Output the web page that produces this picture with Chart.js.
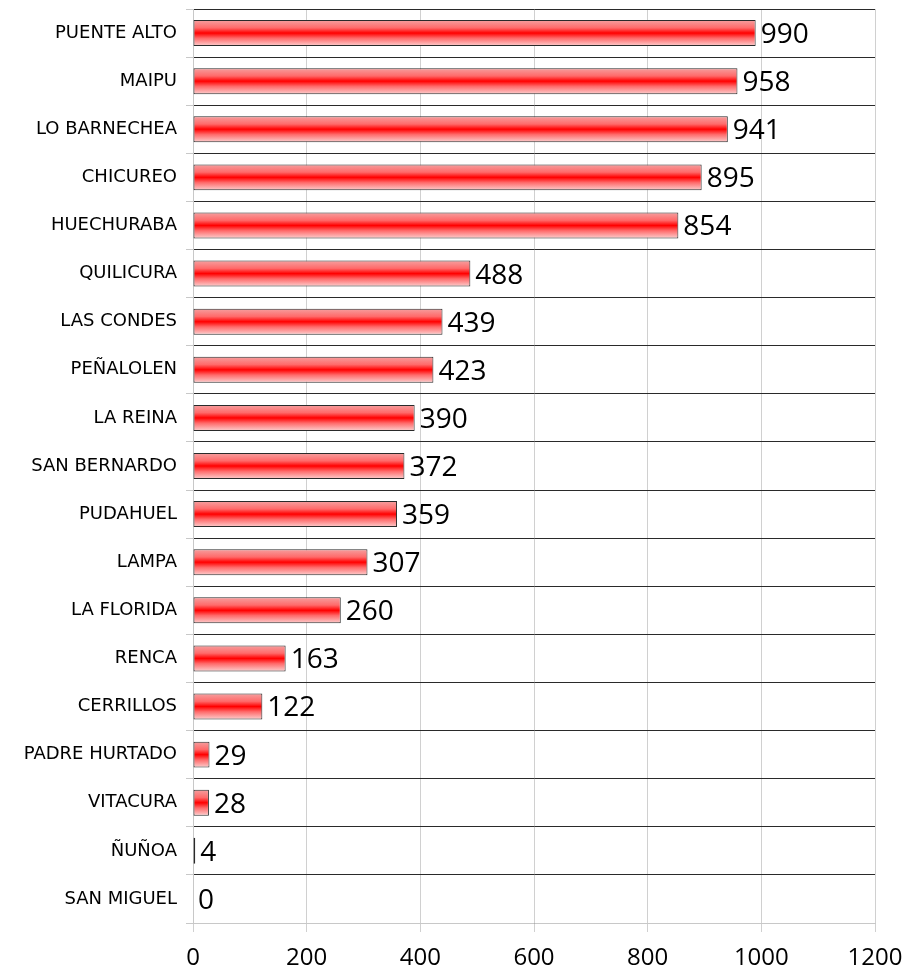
<!DOCTYPE html>
<html>
<head>
<meta charset="utf-8">
<script src="https://cdn.jsdelivr.net/npm/chart.js@4"></script>
<style>
  html, body { margin: 0; padding: 0; background: #fff; }
  #wrap { width: 905px; height: 974px; }
</style>
</head>
<body>
<div id="wrap"><canvas id="grafico" width="905" height="974"></canvas></div>
<script>
const comunas = [
  "PUENTE ALTO", "MAIPU", "LO BARNECHEA", "CHICUREO", "HUECHURABA",
  "QUILICURA", "LAS CONDES", "PEÑALOLEN", "LA REINA", "SAN BERNARDO",
  "PUDAHUEL", "LAMPA", "LA FLORIDA", "RENCA", "CERRILLOS",
  "PADRE HURTADO", "VITACURA", "ÑUÑOA", "SAN MIGUEL"
];
const valores = [990, 958, 941, 895, 854, 488, 439, 423, 390, 372, 359, 307, 260, 163, 122, 29, 28, 4, 0];
const ejeX = { min: 0, max: 1200, paso: 200 };

const anchoBarra = 0.54;

// degradado rojo por barra (claro arriba/abajo, rojo al centro)
function colorBarra(c) {
  const chart = c.chart;
  const escala = chart.scales.y;
  if (!escala || !chart.chartArea) return "#ff0000";
  const centro = escala.getPixelForValue(c.dataIndex);
  const alto = (escala.height / comunas.length) * anchoBarra;
  const g = chart.ctx.createLinearGradient(0, centro - alto / 2, 0, centro + alto / 2);
  g.addColorStop(0, "#f5a0a0");
  g.addColorStop(0.3, "#ff6a6a");
  g.addColorStop(0.5, "#ff0000");
  g.addColorStop(0.7, "#ff6a6a");
  g.addColorStop(1, "#fcd0d0");
  return g;
}

const etiquetas = {
  id: "etiquetas",
  afterDatasetsDraw(chart) {
    const ctx = chart.ctx;
    const meta = chart.getDatasetMeta(0);
    ctx.save();
    ctx.font = "28px 'Open Sans'";
    ctx.fillStyle = "#000";
    ctx.textBaseline = "middle";
    ctx.textAlign = "left";
    meta.data.forEach((barra, i) => {
      ctx.fillText(String(valores[i]), barra.x + 5, barra.y + 2);
    });
    ctx.restore();
  }
};

new Chart(document.getElementById("grafico").getContext("2d"), {
  type: "bar",
  data: {
    labels: comunas,
    datasets: [{
      data: valores,
      backgroundColor: colorBarra,
      borderColor: "#2a2a2a",
      borderWidth: 1,
      borderSkipped: false,
      barPercentage: anchoBarra,
      categoryPercentage: 1
    }]
  },
  options: {
    indexAxis: "y",
    responsive: false,
    animation: false,
    events: [],
    layout: { padding: { top: 9, right: 30, left: 0, bottom: 0 } },
    plugins: {
      legend: { display: false },
      tooltip: { enabled: false }
    },
    scales: {
      x: {
        min: ejeX.min,
        max: ejeX.max,
        ticks: {
          stepSize: ejeX.paso,
          callback: (v) => String(v),
          color: "#000",
          font: { family: "'Open Sans'", size: 24 },
          padding: 12
        },
        grid: { color: "#d0d0d0", tickColor: "#d0d0d0", tickLength: 9, lineWidth: 1 },
        border: { color: "#c8c8c8" },
        afterFit(s) {
          s.height = 51;
          s.paddingLeft = 0;
          s.paddingRight = 0;
        }
      },
      y: {
        ticks: {
          color: "#000",
          font: { family: "'DejaVu Sans'", size: 18 },
          padding: 9
        },
        grid: {
          offset: true,
          color: (c) => (c.index === comunas.length ? "#c8c8c8" : "#2a2a2a"),
          tickColor: "#c8c8c8",
          tickLength: 7,
          lineWidth: 1
        },
        border: { color: "#c8c8c8" },
        afterFit(s) {
          s.width = 193;
          s.paddingTop = 0;
          s.paddingBottom = 0;
        }
      }
    }
  },
  plugins: [etiquetas]
});
</script>
</body>
</html>
